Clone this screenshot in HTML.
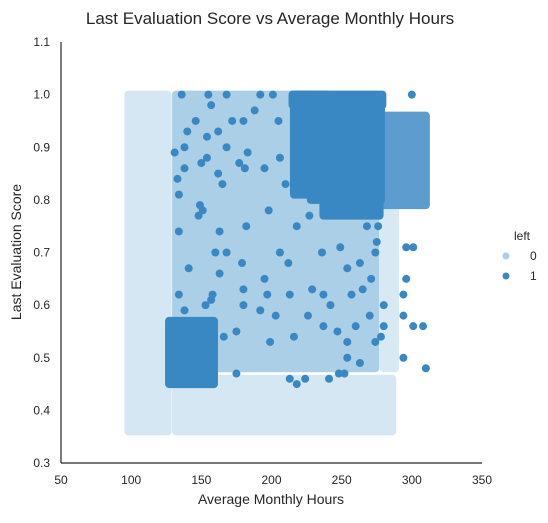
<!DOCTYPE html>
<html><head><meta charset="utf-8"><style>
body{margin:0;background:#fff;font-family:"Liberation Sans",sans-serif}
svg text{font-family:"Liberation Sans",sans-serif;fill:#262626}
</style></head><body>
<svg id="c" width="548" height="518">
<text x="270" y="24" text-anchor="middle" font-size="17">Last Evaluation Score vs Average Monthly Hours</text>
<g id="plot"></g>
<line x1="61" y1="42" x2="61" y2="463" stroke="#262626" stroke-width="1.2"/>
<line x1="61" y1="463" x2="482" y2="463" stroke="#262626" stroke-width="1.2"/>
<g id="xt"></g>
<g id="yt"></g>
<text x="271" y="504" text-anchor="middle" font-size="14">Average Monthly Hours</text>
<text x="21" y="252" text-anchor="middle" font-size="14" transform="rotate(-90 21 252)">Last Evaluation Score</text>
<g>
<text x="522" y="240" text-anchor="middle" font-size="12">left</text>
<g><circle cx="506" cy="256" r="3.5" fill="#abcfe6"/><text x="530" y="260" font-size="12">0</text></g>
<g><circle cx="506" cy="276" r="3.5" fill="#3a88c3"/><text x="530" y="280" font-size="12">1</text></g>
</g>
</svg>
<script>
const xTicks=[50,100,150,200,250,300,350];
const yTicks=[0.3,0.4,0.5,0.6,0.7,0.8,0.9,1.0,1.1];
// dense light regions: [x0,x1,y0,y1,opacity]
const stayRegions=[[98,126,0.36,1.0,0.5],[132,286,0.36,0.46,0.5],[280,288,0.48,0.80,0.45],[132,274,0.48,1.0,1]];
// dense dark regions: [x0,x1,y0,y1]
const leftRegions=[[280,310,0.79,0.96],[127,159,0.45,0.57],[215,279,0.98,1.0],[216,240,0.81,1.0],[228,278,0.80,0.99],[237,277,0.77,0.85]];
const leftFill=['#5c9ccf','#3a88c3','#3a88c3','#3a88c3','#3a88c3','#3a88c3'];
const leftHours=[136,155,168,192,201,300,157,188,146,172,180,205,140,162,154,168,183,131,138,206,177,181,195,154,150,138,162,133,165,210,134,149,151,148,198,227,182,218,268,276,163,134,160,168,206,236,249,274,296,301,141,163,179,212,254,263,275,271,195,296,180,197,213,229,237,257,265,294,134,158,157,153,138,180,192,203,226,242,270,294,280,166,175,199,216,237,247,254,260,280,301,308,278,274,294,254,263,175,213,218,224,241,248,252,310];
const leftEval=[1.00,1.00,1.00,1.00,1.00,1.00,0.98,0.97,0.95,0.95,0.95,0.95,0.93,0.93,0.92,0.90,0.89,0.89,0.90,0.88,0.87,0.86,0.86,0.88,0.87,0.86,0.85,0.84,0.83,0.83,0.81,0.79,0.78,0.77,0.78,0.77,0.75,0.75,0.75,0.75,0.74,0.74,0.70,0.70,0.70,0.70,0.71,0.70,0.71,0.71,0.67,0.66,0.68,0.68,0.67,0.68,0.72,0.65,0.65,0.65,0.63,0.62,0.62,0.63,0.62,0.62,0.63,0.62,0.62,0.62,0.61,0.60,0.59,0.60,0.59,0.58,0.58,0.60,0.58,0.58,0.60,0.54,0.55,0.53,0.54,0.56,0.55,0.53,0.56,0.56,0.56,0.56,0.54,0.53,0.50,0.50,0.49,0.47,0.46,0.45,0.46,0.46,0.47,0.47,0.48];
const X=v=>61+(v-50)*421/300, Y=v=>463-(v-0.3)*421/0.8;
const NS="http://www.w3.org/2000/svg";
const plot=document.getElementById('plot');
function rect(r,fill,op,name){const e=document.createElementNS(NS,'rect');
e.setAttribute('x',X(r[0])-4);e.setAttribute('y',Y(r[3])-4);
e.setAttribute('width',X(r[1])-X(r[0])+8);e.setAttribute('height',Y(r[2])-Y(r[3])+8);
e.setAttribute('rx',4);e.setAttribute('fill',fill);e.setAttribute('opacity',op);


plot.appendChild(e);}
stayRegions.forEach(r=>rect(r,'#abcfe6',r[4],'stayed-density-region'));
leftRegions.forEach((r,i)=>rect(r,leftFill[i],1,'left-density-region'));
leftHours.forEach((h,i)=>{const c=document.createElementNS(NS,'circle');
c.setAttribute('cx',X(h));c.setAttribute('cy',Y(leftEval[i]));c.setAttribute('r',4);c.setAttribute('fill','#3a88c3');


plot.appendChild(c);});
const xt=document.getElementById('xt');
xTicks.forEach(t=>{const e=document.createElementNS(NS,'text');e.setAttribute('x',X(t));e.setAttribute('y',484);e.setAttribute('text-anchor','middle');e.setAttribute('font-size','12');e.textContent=t;


xt.appendChild(e);});
const yt=document.getElementById('yt');
yTicks.forEach(t=>{const e=document.createElementNS(NS,'text');e.setAttribute('x',50);e.setAttribute('y',Y(t)+4);e.setAttribute('text-anchor','end');e.setAttribute('font-size','12');e.textContent=t.toFixed(1);


yt.appendChild(e);});
</script>
</body></html>
